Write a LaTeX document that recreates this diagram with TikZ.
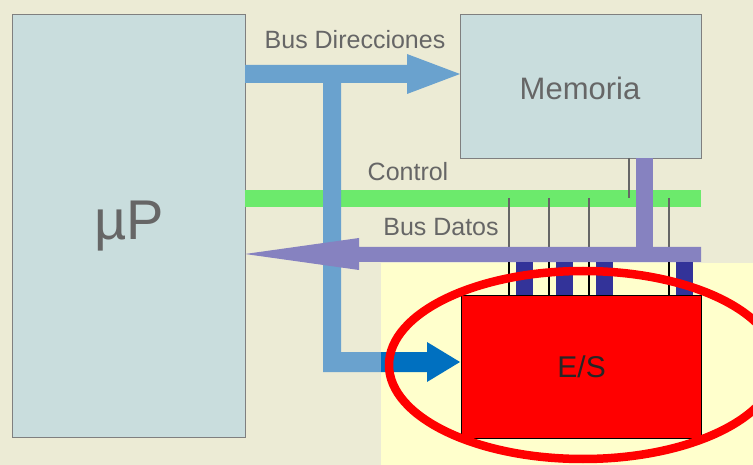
\documentclass[tikz,border=0pt]{standalone}
\usepackage{fontspec}
\setmainfont{Liberation Sans}
\definecolor{bgbeige}{HTML}{ECEBD5}
\definecolor{bgyellow}{HTML}{FFFFCC}
\definecolor{boxfill}{HTML}{C9DDDD}
\definecolor{boxline}{HTML}{7F7F7F}
\definecolor{txtgray}{HTML}{666666}
\definecolor{addrblue}{HTML}{6AA2CE}
\definecolor{darkblue}{HTML}{0070C0}
\definecolor{ctlgreen}{HTML}{6CEA6C}
\definecolor{datpurple}{HTML}{8682C0}
\definecolor{barblue}{HTML}{333399}
\definecolor{thingray}{HTML}{666666}
\tikzset{
  blockbox/.style={draw=boxline, line width=1pt, fill=boxfill, inner sep=0pt},
  lbl/.style={text=txtgray, inner sep=0pt, anchor=base},
  thinline/.style={draw=thingray, line width=1.2pt},
  blackline/.style={draw=black, line width=1.2pt},
}
\begin{document}
\begin{tikzpicture}[x=1pt,y=-1pt]
\useasboundingbox (0,0) rectangle (753,465);
% backgrounds
\fill[bgbeige] (0,0) rectangle (753,465);
\fill[bgyellow] (381,263) rectangle (753,465);
% boxes
\node[blockbox, minimum width=233pt, minimum height=423pt, anchor=north west] (up) at (12,14) {};
\node[blockbox, minimum width=241pt, minimum height=144pt, anchor=north west] (mem) at (460,14) {};
\node[text=txtgray, font=\fontsize{56}{60}\selectfont] (uplbl) at (up.center) {µP};
\node[text=txtgray, font=\fontsize{31}{34}\selectfont] (memlbl) at (580,88) {Memoria};
% control bus
\fill[ctlgreen] (245,190) rectangle (701,207);
% address bus (L-shaped arrow)
\fill[addrblue] (245,65) -- (407,65) -- (407,54) -- (460,74) -- (407,94) -- (407,83)
  -- (341,83) -- (341,352) -- (381,352) -- (381,372) -- (323,372) -- (323,83) -- (245,83) -- cycle;
\fill[darkblue] (381,352) -- (427,352) -- (427,342) -- (460,362) -- (427,382) -- (427,372) -- (381,372) -- cycle;
% thin lines from control bus
\foreach \xx in {509,549,589,669}{
  \draw[thinline] (\xx,198) -- (\xx,247);
}
\draw[thinline] (629,158) -- (629,198);
% data bus
\fill[datpurple] (636,158) rectangle (653,247);
\fill[datpurple] (701,247) -- (359,247) -- (359,238) -- (245,254) -- (359,270) -- (359,262) -- (701,262) -- cycle;
% E/S box
\node[draw=black, line width=1.2pt, fill=red, minimum width=240pt, minimum height=143pt, anchor=north west, inner sep=0pt] (es) at (461,295) {};
\node[text=black!85, font=\fontsize{30}{34}\selectfont] (eslbl) at (es.center) {E/S};
% bars between data bus and E/S
\foreach \xx in {509,549,589,669}{
  \draw[blackline] (\xx,262) -- (\xx,295);
}
\foreach \xx in {516,556,596,676}{
  \fill[barblue] (\xx,262) rectangle (\xx+17,295);
}
% labels
\node[lbl, font=\fontsize{25}{28}\selectfont] (busdir) at (355,49) {Bus Direcciones};
\node[lbl, font=\fontsize{25}{28}\selectfont] (ctl) at (408,181) {Control};
\node[lbl, font=\fontsize{25}{28}\selectfont] (busdat) at (441,236) {Bus Datos};
% red ellipse
\draw[red, line width=8.5pt] (583,365) ellipse [x radius=194, y radius=94];
\end{tikzpicture}
\end{document}
